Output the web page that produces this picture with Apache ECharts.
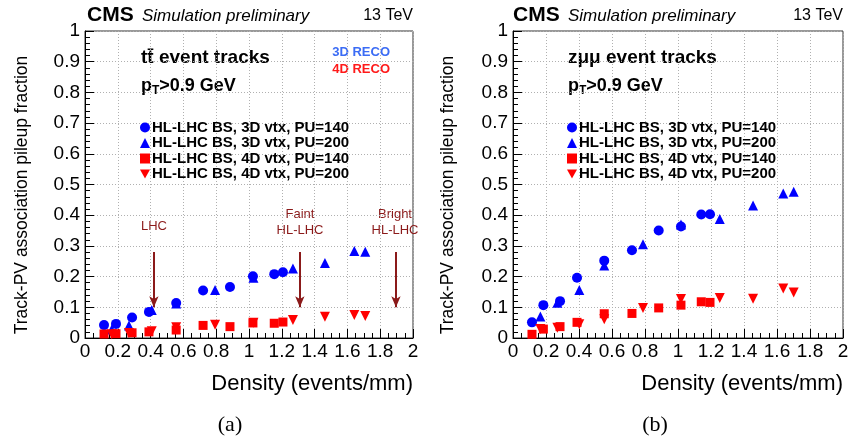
<!DOCTYPE html>
<html>
<head>
<meta charset="utf-8">
<script src="https://cdn.jsdelivr.net/npm/echarts@6/dist/echarts.min.js"></script>
<style>html,body{margin:0;padding:0;background:#fff}#c{width:864px;height:443px}</style>
</head>
<body>
<div id="c"></div>
<script>
// ---- Panel (a): ttbar event tracks ----
const a_x_3d140 = [0.116, 0.189, 0.287, 0.390, 0.556, 0.720, 0.884, 1.024, 1.154, 1.207];
const a_y_3d140 = [0.042, 0.046, 0.067, 0.085, 0.114, 0.155, 0.166, 0.201, 0.208, 0.214];
const a_x_3d200 = [0.163, 0.268, 0.407, 0.556, 0.793, 1.027, 1.268, 1.463, 1.642, 1.709];
const a_y_3d200 = [0.028, 0.041, 0.091, 0.112, 0.156, 0.196, 0.226, 0.244, 0.283, 0.281];
const a_x_4d140 = [0.116, 0.189, 0.287, 0.390, 0.556, 0.720, 0.884, 1.024, 1.154, 1.207];
const a_y_4d140 = [0.013, 0.014, 0.017, 0.020, 0.026, 0.041, 0.037, 0.049, 0.048, 0.052];
const a_x_4d200 = [0.163, 0.268, 0.407, 0.556, 0.793, 1.027, 1.268, 1.463, 1.642, 1.709];
const a_y_4d200 = [0.012, 0.016, 0.022, 0.035, 0.043, 0.050, 0.059, 0.069, 0.075, 0.072];

// ---- Panel (b): Z->mumu event tracks ----
const b_x_3d140 = [0.115, 0.184, 0.285, 0.388, 0.553, 0.721, 0.883, 1.018, 1.141, 1.194];
const b_y_3d140 = [0.051, 0.107, 0.120, 0.196, 0.252, 0.286, 0.350, 0.363, 0.402, 0.403];
const b_x_3d200 = [0.166, 0.269, 0.402, 0.553, 0.788, 1.018, 1.253, 1.455, 1.638, 1.701];
const b_y_3d200 = [0.070, 0.115, 0.156, 0.236, 0.305, 0.370, 0.388, 0.432, 0.471, 0.476];
const b_x_4d140 = [0.115, 0.184, 0.285, 0.388, 0.553, 0.721, 0.883, 1.018, 1.141, 1.194];
const b_y_4d140 = [0.012, 0.029, 0.037, 0.051, 0.079, 0.080, 0.098, 0.107, 0.118, 0.116];
const b_x_4d200 = [0.166, 0.269, 0.402, 0.553, 0.788, 1.018, 1.253, 1.455, 1.638, 1.701];
const b_y_4d200 = [0.029, 0.033, 0.045, 0.061, 0.098, 0.127, 0.130, 0.128, 0.161, 0.148];

// arrows (panel a): x position, y start, y end
const arrowX = [0.42, 1.31, 1.896];
const arrowY0 = 0.28, arrowY1 = 0.10;
const arrowLabels = ['LHC', 'Faint\nHL-LHC', 'Bright\nHL-LHC'];

const seriesNames = ['HL-LHC BS, 3D vtx, PU=140', 'HL-LHC BS, 3D vtx, PU=200',
                     'HL-LHC BS, 4D vtx, PU=140', 'HL-LHC BS, 4D vtx, PU=200'];
const downTri = 'path://M0,0L10,0L5,9Z';
const symbols = ['circle', 'triangle', 'rect', downTri];
const sizes = [10, 10, 9, 10];
const colors = ['#0000ff', '#0000ff', '#ff0000', '#ff0000'];

function pairs(xs, ys) { return xs.map((x, i) => [x, ys[i]]); }
const panelData = [
  [pairs(a_x_3d140, a_y_3d140), pairs(a_x_3d200, a_y_3d200), pairs(a_x_4d140, a_y_4d140), pairs(a_x_4d200, a_y_4d200)],
  [pairs(b_x_3d140, b_y_3d140), pairs(b_x_3d200, b_y_3d200), pairs(b_x_4d140, b_y_4d140), pairs(b_x_4d200, b_y_4d200)]
];

const FONT = 'Liberation Sans';
const grids = [
  { left: 85, top: 31, width: 328, height: 307 },
  { left: 513, top: 31, width: 330, height: 307 }
];

function xAx(i) {
  return {
    type: 'value', gridIndex: i, min: 0, max: 2, interval: 0.2,
    axisLine: { lineStyle: { color: '#000', width: 1 } },
    axisTick: { inside: true, length: 9, lineStyle: { color: '#000' } },
    minorTick: { show: true, splitNumber: 4, length: 5, lineStyle: { color: '#000' } },
    axisLabel: { color: '#000', fontFamily: FONT, fontSize: 19, margin: 4,
      formatter: v => (Math.round(v * 10) / 10).toString() },
    splitLine: { show: true, lineStyle: { color: '#b0b0b0', type: [1, 2] } }
  };
}
function yAx(i) {
  return {
    type: 'value', gridIndex: i, min: 0, max: 1, interval: 0.1,
    axisLine: { show: true, lineStyle: { color: '#000', width: 1 } },
    axisTick: { show: true, inside: true, length: 9, lineStyle: { color: '#000' } },
    minorTick: { show: true, splitNumber: 5, length: 5, lineStyle: { color: '#000' } },
    axisLabel: { color: '#000', fontFamily: FONT, fontSize: 19, margin: 5,
      formatter: v => (Math.round(v * 10) / 10).toString() },
    splitLine: { show: true, lineStyle: { color: '#b0b0b0', type: [1, 2] } }
  };
}

const series = [];
for (let p = 0; p < 2; p++) {
  for (let s = 0; s < 4; s++) {
    const ser = {
      type: 'scatter', name: seriesNames[s], xAxisIndex: p, yAxisIndex: p,
      symbol: symbols[s], symbolSize: sizes[s],
      itemStyle: { color: colors[s], opacity: 1 },
      data: panelData[p][s], z: 3
    };
    if (p === 0 && s === 3) {
      ser.markLine = {
        silent: true, symbol: ['none', 'arrow'], symbolSize: [7, 11],
        lineStyle: { color: '#8b1a1a', width: 2, type: 'solid' },
        label: { show: false },
        data: arrowX.map(x => [{ coord: [x, arrowY0] }, { coord: [x, arrowY1] }])
      };
    }
    series.push(ser);
  }
}

function legendFor(left) {
  return {
    data: seriesNames.map((n, i) => ({ name: n, icon: i === 3 ? downTri : symbols[i] })),
    orient: 'vertical', left: left, top: 120, itemGap: 0.5, itemWidth: 10, itemHeight: 10,
    textStyle: { fontFamily: FONT, fontWeight: 'bold', fontSize: 15, lineHeight: 14, color: '#000', padding: [0, 0, 0, -3] },
    selectedMode: false, padding: 0
  };
}

const graphic = [];
function text(x, y, t, style) {
  graphic.push({ type: 'text', x: x, y: y, silent: true,
    style: Object.assign({ text: t, fontFamily: FONT, fill: '#000', textVerticalAlign: 'middle' }, style) });
}
const headerX = [[87, 413], [513, 843]];
headerX.forEach(([l, r]) => {
  text(l, 15, 'CMS', { fontSize: 21, fontWeight: 'bold' });
  text(l + 55, 16, 'Simulation preliminary', { fontSize: 17, fontStyle: 'italic' });
  text(r, 16, '13 TeV', { fontSize: 16, textAlign: 'right' });
  text(r, 384, 'Density (events/mm)', { fontSize: 22, textAlign: 'right' });
});
[22, 448].forEach(x => {
  graphic.push({ type: 'text', x: x, y: 195, rotation: Math.PI / 2, silent: true,
    style: { text: 'Track-PV association pileup fraction', fontFamily: FONT, fontSize: 17.5,
      fill: '#000', textAlign: 'center', textVerticalAlign: 'middle' } });
});
text(141, 58, 't\u0074\u0304 event tracks', { fontSize: 19, fontWeight: 'bold' });
text(568, 58, 'z\u03bc\u03bc event tracks', { fontSize: 19, fontWeight: 'bold' });
[141, 568].forEach(x => {
  graphic.push({ type: 'text', x: x, y: 86, silent: true,
    style: { text: '{b|p}{s|T}{b|>0.9 GeV}', fontFamily: FONT, textVerticalAlign: 'middle',
      rich: { b: { fontSize: 18, fontWeight: 'bold', fill: '#000', fontFamily: FONT },
              s: { fontSize: 12, fontWeight: 'bold', fill: '#000', fontFamily: FONT, padding: [10, 0, 0, 0] } } } });
});
text(390, 52, '3D RECO', { fontSize: 13, fontWeight: 'bold', fill: '#3b6cf5', textAlign: 'right' });
text(390, 69, '4D RECO', { fontSize: 13, fontWeight: 'bold', fill: '#ff1a1a', textAlign: 'right' });
// arrow labels (panel a)
text(154, 226, arrowLabels[0], { fontSize: 13, fill: '#8b1a1a', textAlign: 'center' });
text(300, 222, arrowLabels[1], { fontSize: 13, fill: '#8b1a1a', textAlign: 'center', lineHeight: 16 });
text(395, 222, arrowLabels[2], { fontSize: 13, fill: '#8b1a1a', textAlign: 'center', lineHeight: 16 });
// captions
text(230, 425, '(a)', { fontSize: 22, fontFamily: 'Liberation Serif', textAlign: 'center' });
text(655, 425, '(b)', { fontSize: 22, fontFamily: 'Liberation Serif', textAlign: 'center' });

const option = {
  animation: false,
  backgroundColor: '#fff',
  grid: grids.map(g => Object.assign({ show: true, borderColor: '#333', borderWidth: 1, backgroundColor: 'transparent' }, g)),
  xAxis: [xAx(0), xAx(1)],
  yAxis: [yAx(0), yAx(1)],
  legend: [legendFor(140), legendFor(567)],
  series: series,
  graphic: graphic
};
const chart = echarts.init(document.getElementById('c'), null, { renderer: 'canvas' });
chart.setOption(option);
</script>
</body>
</html>
